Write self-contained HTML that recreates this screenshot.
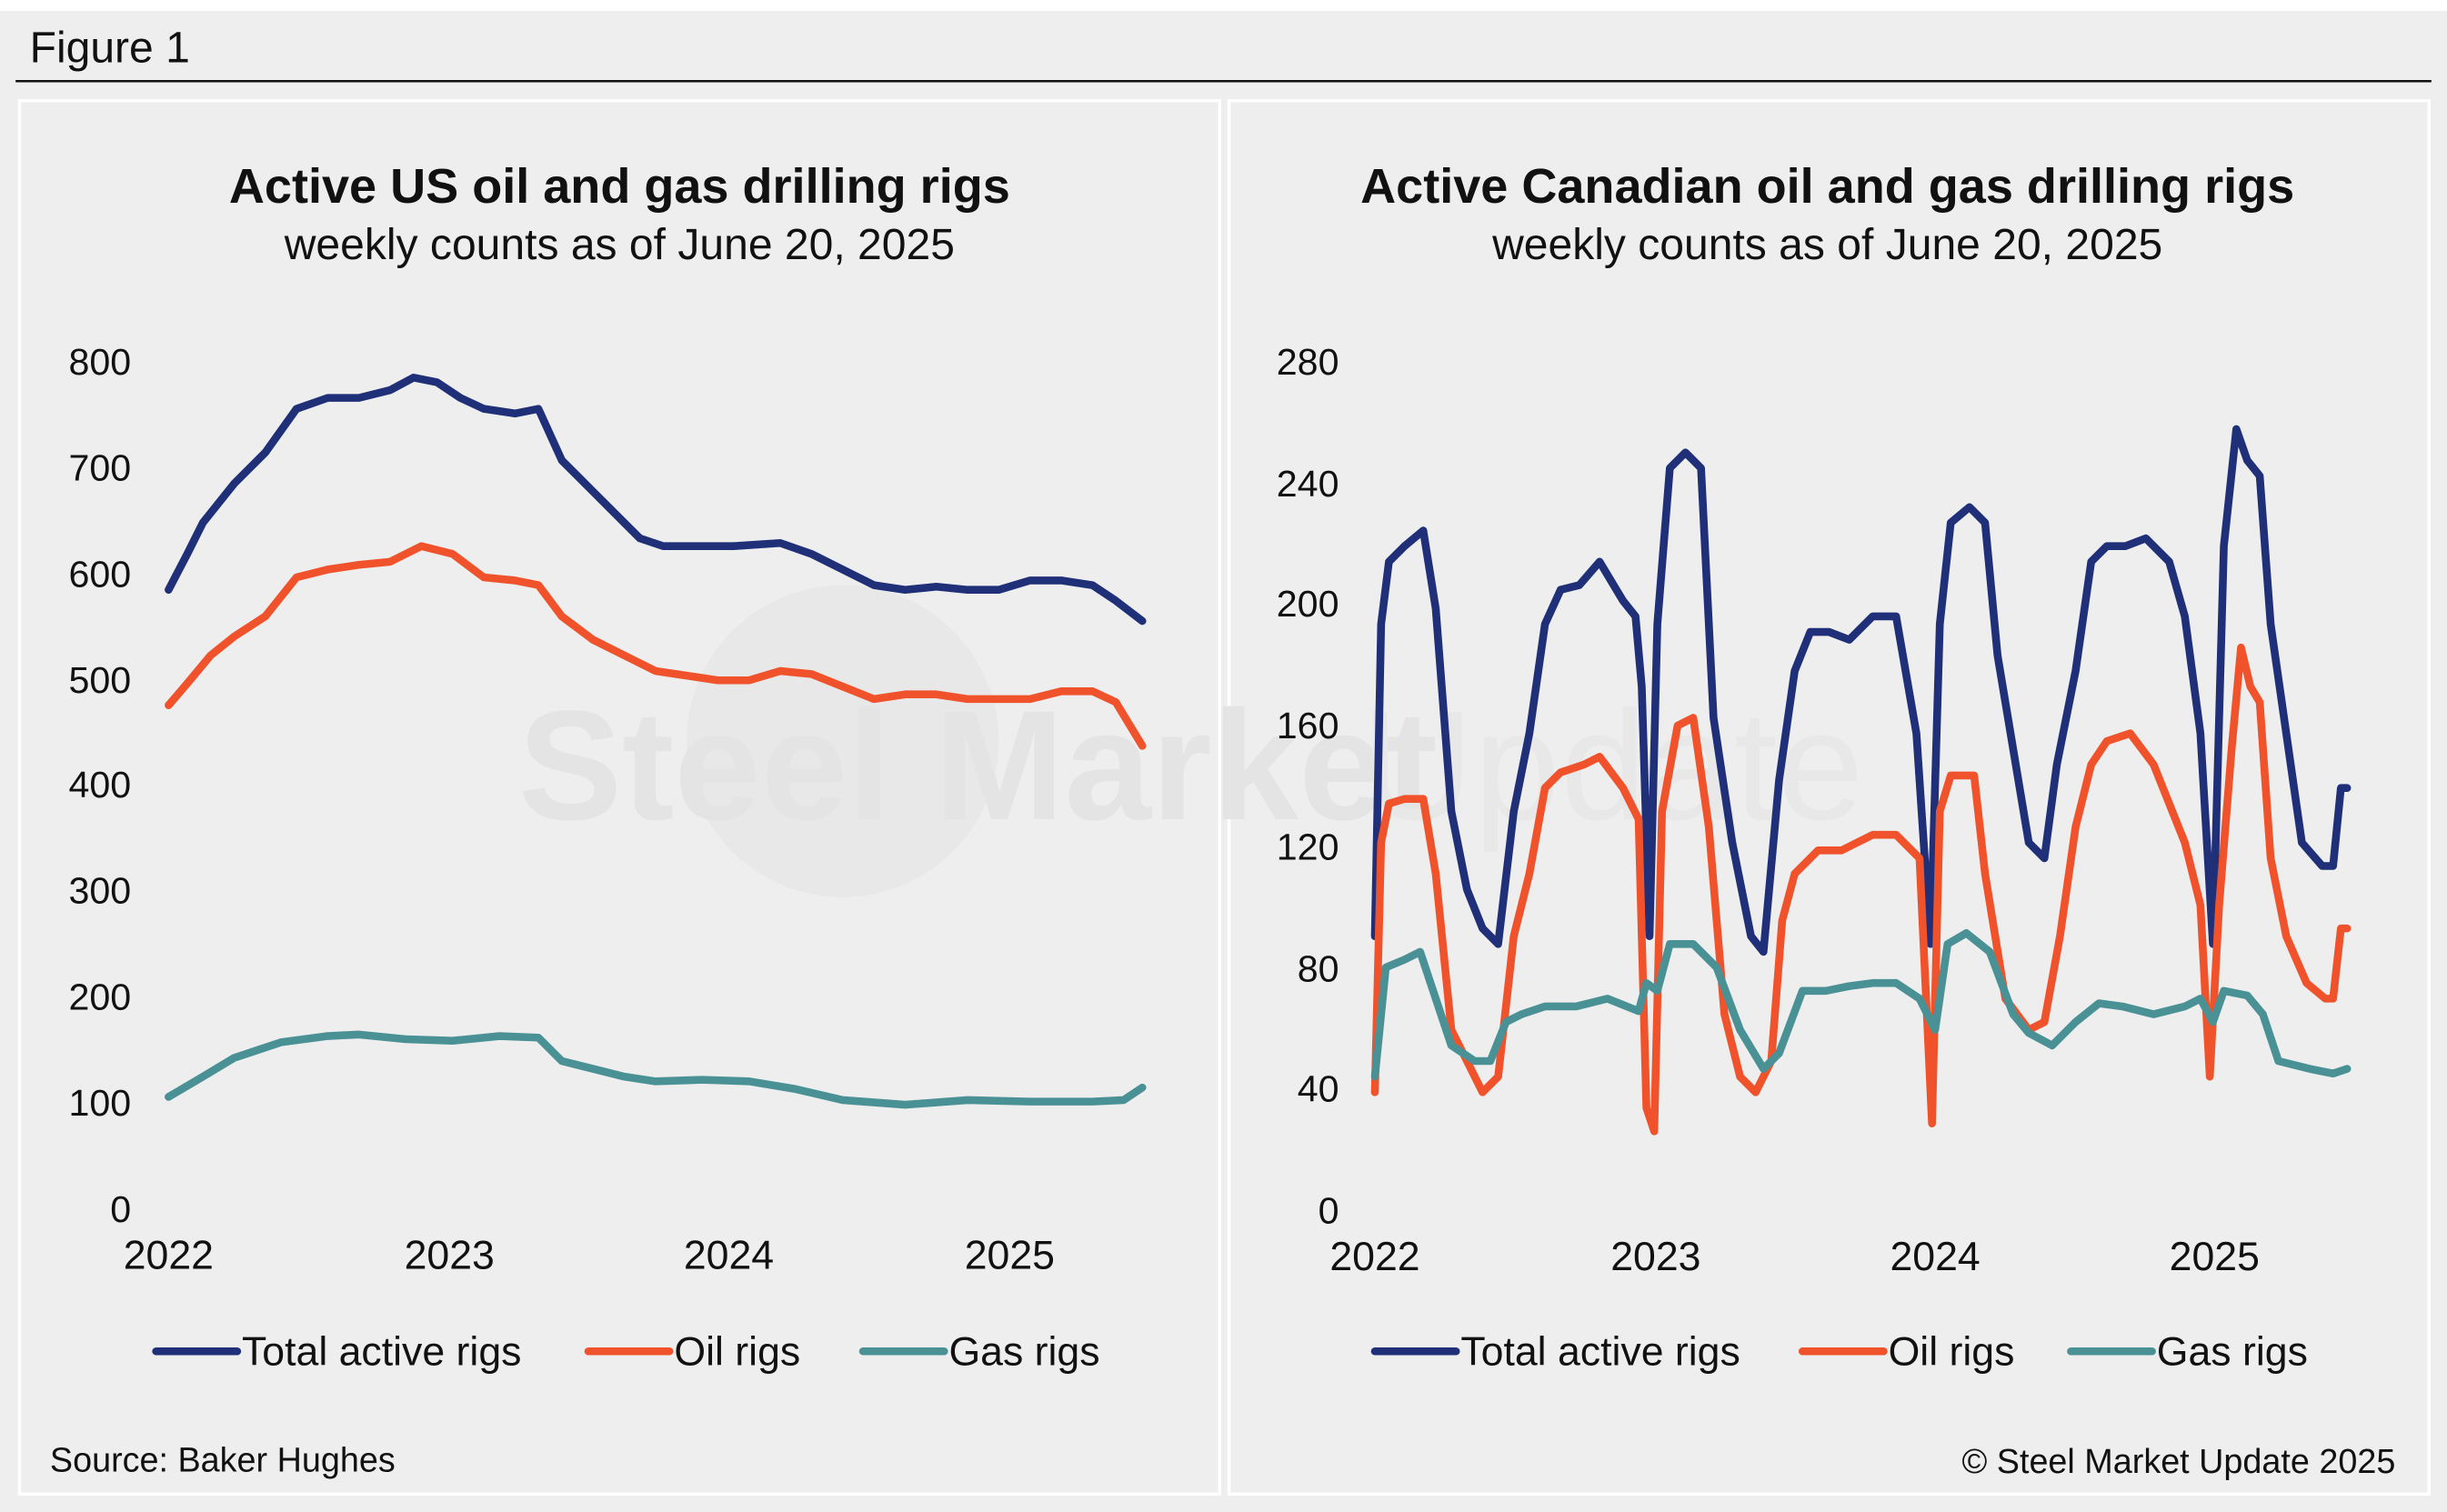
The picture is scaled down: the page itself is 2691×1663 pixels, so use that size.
<!DOCTYPE html>
<html><head><meta charset="utf-8"><style>
html,body{margin:0;padding:0;background:#fff;}
svg{display:block;}
text{font-family:"Liberation Sans",Arial,sans-serif;fill:#111;}
</style></head><body>
<svg width="2691" height="1663" viewBox="0 0 1568 969" xmlns="http://www.w3.org/2000/svg">
<rect x="0" y="7" width="1568" height="962" fill="#eeeeee"/>
<text x="19" y="40" font-size="28">Figure 1</text>
<line x1="10" y1="52" x2="1558" y2="52" stroke="#111" stroke-width="1.5"/>
<rect x="12.5" y="64.5" width="769" height="893" fill="#eeeeee" stroke="#fff" stroke-width="2"/>
<rect x="787.5" y="64.5" width="769" height="893" fill="#eeeeee" stroke="#fff" stroke-width="2"/>
<!-- watermark -->
<circle cx="540" cy="475" r="100" fill="#e8e8e8"/>
<text x="332" y="525" font-size="100" font-weight="bold" style="fill:#e4e4e4">Steel Market</text>
<text x="872" y="525" font-size="100" style="fill:#e8e8e8">Update</text>

<!-- Left chart -->
<text x="397" y="130" font-size="31.5" font-weight="bold" text-anchor="middle">Active US oil and gas drilling rigs</text>
<text x="397" y="166" font-size="28" text-anchor="middle">weekly counts as of June 20, 2025</text>
<g font-size="24" text-anchor="end">
<text x="84" y="240">800</text><text x="84" y="308">700</text><text x="84" y="376">600</text><text x="84" y="444">500</text>
<text x="84" y="511">400</text><text x="84" y="579">300</text><text x="84" y="647">200</text><text x="84" y="715">100</text><text x="84" y="783">0</text>
</g>
<g font-size="26" text-anchor="middle">
<text x="108" y="813">2022</text><text x="288" y="813">2023</text><text x="467" y="813">2024</text><text x="647" y="813">2025</text>
</g>
<g fill="none" stroke-width="5" stroke-linejoin="round" stroke-linecap="round">
<polyline stroke="#1f2f78" points="108,378 120,355 130,335 150,310 170,290 190,262 210,255 230,255 250,250 265,242 280,245 295,255 310,262 330,265 345,262 360,295 380,315 400,335 410,345 425,350 450,350 470,350 500,348 520,355 540,365 560,375 580,378 600,376 620,378 640,378 660,372 680,372 700,375 715,385 732,398"/>
<polyline stroke="#f0532b" points="108,452 120,438 135,420 150,408 170,395 190,370 210,365 230,362 250,360 270,350 290,355 310,370 330,372 345,375 360,395 380,410 400,420 420,430 440,433 460,436 480,436 500,430 520,432 540,440 560,448 580,445 600,445 620,448 640,448 660,448 680,443 700,443 715,450 732,478"/>
<polyline stroke="#4a9196" points="108,703 130,690 150,678 180,668 210,664 230,663 260,666 290,667 320,664 345,665 360,680 380,685 400,690 420,693 450,692 480,693 510,698 540,705 580,708 620,705 660,706 700,706 720,705 732,697"/>
</g>
<g stroke-width="5" stroke-linecap="round">
<line x1="100" y1="866" x2="152" y2="866" stroke="#1f2f78"/>
<line x1="377" y1="866" x2="429" y2="866" stroke="#f0532b"/>
<line x1="553" y1="866" x2="605" y2="866" stroke="#4a9196"/>
</g>
<g font-size="26">
<text x="155" y="875">Total active rigs</text><text x="432" y="875">Oil rigs</text><text x="608" y="875">Gas rigs</text>
</g>
<text x="32" y="943" font-size="22">Source: Baker Hughes</text>

<!-- Right chart -->
<text x="1171" y="130" font-size="31.5" font-weight="bold" text-anchor="middle">Active Canadian oil and gas drilling rigs</text>
<text x="1171" y="166" font-size="28" text-anchor="middle">weekly counts as of June 20, 2025</text>
<g font-size="24" text-anchor="end">
<text x="858" y="240">280</text><text x="858" y="318">240</text><text x="858" y="395">200</text><text x="858" y="473">160</text>
<text x="858" y="551">120</text><text x="858" y="629">80</text><text x="858" y="706">40</text><text x="858" y="784">0</text>
</g>
<g font-size="26" text-anchor="middle">
<text x="881" y="814">2022</text><text x="1061" y="814">2023</text><text x="1240" y="814">2024</text><text x="1419" y="814">2025</text>
</g>
<g fill="none" stroke-width="5" stroke-linejoin="round" stroke-linecap="round">
<polyline stroke="#1f2f78" points="881,600 885,400 890,360 900,350 912,340 920,390 930,520 940,570 950,595 960,605 970,520 980,470 990,400 1000,378 1012,375 1025,360 1040,385 1048,395 1052,440 1057,600 1062,400 1070,300 1080,290 1090,300 1098,460 1110,540 1122,600 1130,610 1140,500 1150,430 1160,405 1172,405 1185,410 1200,395 1215,395 1228,470 1237,605 1243,400 1250,335 1262,325 1272,335 1280,420 1290,480 1300,540 1310,550 1318,490 1330,430 1340,360 1350,350 1362,350 1375,345 1390,360 1400,395 1410,470 1418,605 1425,350 1433,275 1440,295 1448,305 1455,400 1465,470 1475,540 1488,555 1495,555 1500,505 1504,505"/>
<polyline stroke="#f0532b" points="881,700 885,540 890,515 900,512 912,512 920,560 930,660 940,680 950,700 960,690 970,600 980,560 990,505 1000,495 1015,490 1025,485 1040,505 1050,525 1055,710 1060,725 1065,520 1075,465 1085,460 1095,530 1105,650 1115,690 1125,700 1135,680 1142,590 1150,560 1165,545 1180,545 1200,535 1215,535 1230,550 1238,720 1243,520 1250,497 1265,497 1272,560 1285,640 1300,660 1310,655 1320,600 1330,530 1340,490 1350,475 1365,470 1380,490 1400,540 1410,580 1416,690 1422,580 1430,480 1436,415 1442,440 1448,450 1455,550 1465,600 1478,630 1490,640 1495,640 1500,595 1504,595"/>
<polyline stroke="#4a9196" points="881,690 888,620 900,615 910,610 920,640 930,670 945,680 955,680 965,655 975,650 990,645 1010,645 1030,640 1050,648 1055,630 1062,635 1070,605 1085,605 1100,620 1115,660 1130,685 1140,675 1155,635 1170,635 1185,632 1200,630 1215,630 1230,640 1240,660 1248,605 1260,598 1275,610 1290,650 1300,662 1315,670 1330,655 1345,643 1360,645 1380,650 1400,645 1410,640 1418,655 1425,635 1440,638 1450,650 1460,680 1480,685 1495,688 1504,685"/>
</g>
<g stroke-width="5" stroke-linecap="round">
<line x1="881" y1="866" x2="933" y2="866" stroke="#1f2f78"/>
<line x1="1155" y1="866" x2="1207" y2="866" stroke="#f0532b"/>
<line x1="1327" y1="866" x2="1379" y2="866" stroke="#4a9196"/>
</g>
<g font-size="26">
<text x="936" y="875">Total active rigs</text><text x="1210" y="875">Oil rigs</text><text x="1382" y="875">Gas rigs</text>
</g>
<text x="1535" y="944" font-size="22" text-anchor="end">© Steel Market Update 2025</text>
</svg>
</body></html>
